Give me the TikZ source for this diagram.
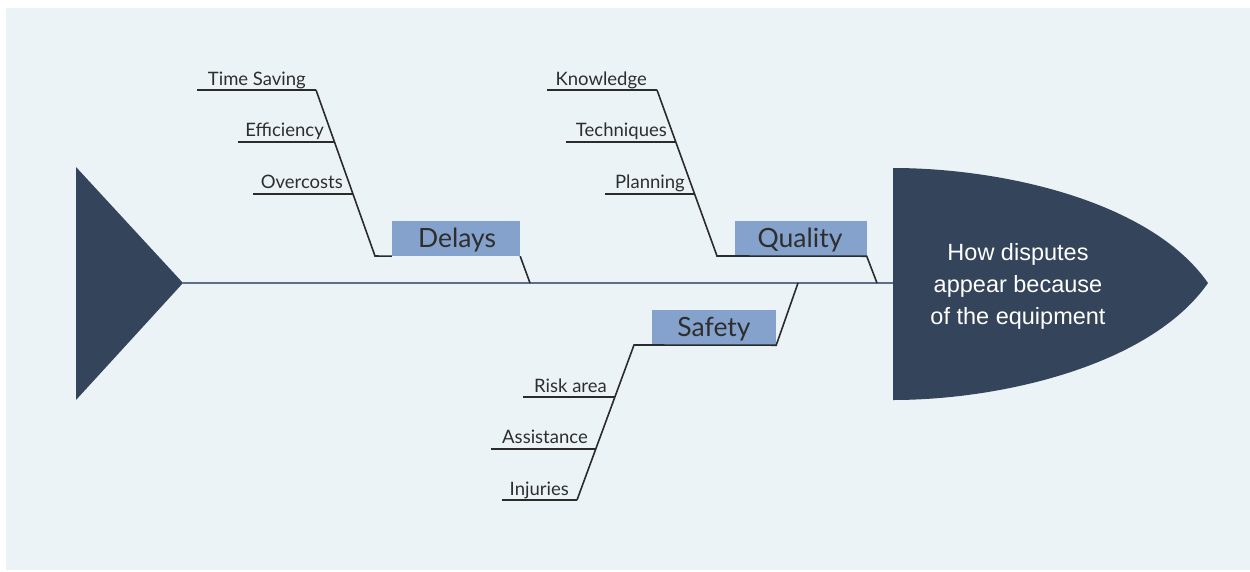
\documentclass[tikz,border=0pt]{standalone}
\usepackage{fontspec}
\setmainfont{Lato}
\newfontfamily\headfont{Liberation Sans}
\definecolor{bgc}{HTML}{EBF3F7}
\definecolor{fishdark}{HTML}{34445A}
\definecolor{boxfill}{HTML}{84A2CB}
\definecolor{spinec}{HTML}{5E6E84}
\definecolor{bonec}{HTML}{2B2B2B}
\definecolor{txt}{HTML}{2E2E2E}
\tikzset{
  spine/.style={draw=spinec, line width=1.5pt},
  bone/.style={draw=bonec, line width=1.6pt},
  causebox/.style={fill=boxfill, inner sep=0pt, minimum height=35pt},
  causetext/.style={text=txt, inner sep=0pt, anchor=base, font=\fontsize{26.5}{30}\selectfont},
  lbl/.style={text=txt, inner sep=0pt, anchor=base east, font=\fontsize{18.5}{22}\selectfont},
}
\begin{document}
\begin{tikzpicture}[x=1pt, y=-1pt]
\useasboundingbox (0,0) rectangle (1250,571);
\fill[white] (0,0) rectangle (1250,571);
\fill[bgc] (6,8) rectangle (1250,570);

% tail and head of the fish
\fill[fishdark] (76,167) -- (183,283) -- (76,400) -- cycle;
\coordinate (tail) at (183,283);
\fill[fishdark] (893,168) .. controls (1000,168) and (1150,200) .. (1208,283)
  .. controls (1150,366) and (1000,400) .. (893,400) -- cycle;
\coordinate (headL) at (893,283);
\node[text=white, align=center, inner sep=0pt,
  font=\headfont\fontsize{23.5}{32}\selectfont] (effect) at (1018,286)
  {How disputes\\appear because\\of the equipment};

% spine
\draw[spine] (tail) -- (headL);

% cause boxes, with their labels set slightly low
\node[causebox, minimum width=128pt] (delays) at (456,238.5) {};
\node[causebox, minimum width=132pt] (quality) at (800.5,238.5) {};
\node[causebox, minimum width=124pt] (safety) at (714,327.5) {};
\node[causetext] (delaysT) at (457,247) {Delays};
\node[causetext] (qualityT) at (800,247) {Quality};
\node[causetext] (safetyT) at (714,336) {Safety};

% Delays branch
\coordinate (d0) at (316,90);
\coordinate (d1) at (375,256);
\coordinate (d2) at (530,283);
\draw[bone] (d0) -- (d1) -- (delays.south west);
\draw[bone] (delays.south east) -- (d2);
\node[lbl] (ts) at (306,85) {Time Saving};
\node[lbl] (ef) at (324,136) {Efficiency};
\node[lbl] (oc) at (343,188) {Overcosts};
\coordinate (ts0) at (197,90);  \coordinate (ts1) at (316,90);
\coordinate (ef0) at (238,142); \coordinate (ef1) at (334,142);
\coordinate (oc0) at (253,194); \coordinate (oc1) at (353,194);
\draw[bone] (ts0) -- (ts1);
\draw[bone] (ef0) -- (ef1);
\draw[bone] (oc0) -- (oc1);

% Quality branch
\coordinate (q0) at (657,90);
\coordinate (q1) at (717,256);
\coordinate (q2) at (877,283);
\draw[bone] (q0) -- (q1) -- (quality.south east) -- (q2);
\node[lbl] (kn) at (647,85) {Knowledge};
\node[lbl] (te) at (667,136) {Techniques};
\node[lbl] (pl) at (685,188) {Planning};
\coordinate (kn0) at (547,90);  \coordinate (kn1) at (657,90);
\coordinate (te0) at (566,142); \coordinate (te1) at (676,142);
\coordinate (pl0) at (605,194); \coordinate (pl1) at (694,194);
\draw[bone] (kn0) -- (kn1);
\draw[bone] (te0) -- (te1);
\draw[bone] (pl0) -- (pl1);

% Safety branch
\coordinate (s0) at (577,500);
\coordinate (s1) at (634,345);
\coordinate (s2) at (798,283);
\draw[bone] (s0) -- (s1) -- (safety.south east) -- (s2);
\node[lbl] (ra) at (607,392) {Risk area};
\node[lbl] (as) at (588,443) {Assistance};
\node[lbl] (in) at (569,495) {Injuries};
\coordinate (ra0) at (523,397); \coordinate (ra1) at (615,397);
\coordinate (as0) at (491,449); \coordinate (as1) at (596,449);
\coordinate (in0) at (502,500); \coordinate (in1) at (577,500);
\draw[bone] (ra0) -- (ra1);
\draw[bone] (as0) -- (as1);
\draw[bone] (in0) -- (in1);
\end{tikzpicture}
\end{document}
